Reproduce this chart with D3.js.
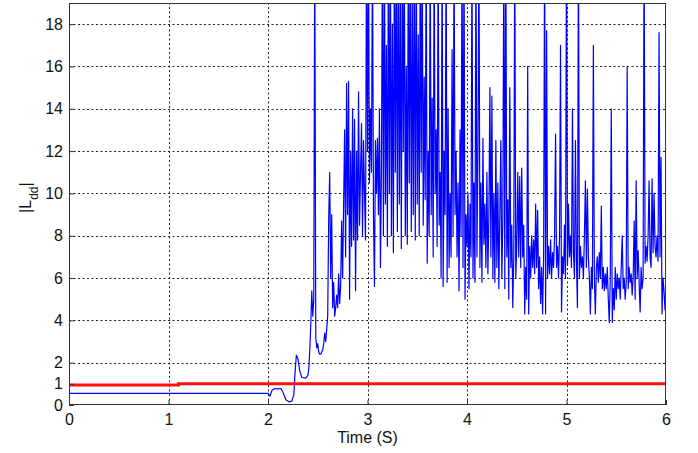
<!DOCTYPE html>
<html>
<head>
<meta charset="utf-8">
<script src="https://cdn.jsdelivr.net/npm/d3@7"></script>
<style>
  body { margin: 0; background: #fff; }
  text { font-family: Arial, "Liberation Sans", sans-serif; fill: #111; }
</style>
</head>
<body>
<script>
const xTicks = [0, 1, 2, 3, 4, 5, 6]
const yTicks = [0, 1, 2, 4, 6, 8, 10, 12, 14, 16, 18]

// red reference level
const refT = [0, 1.1, 1.1, 6]
const refV = [0.95, 0.95, 1.0, 1.0]

// blue trace, quiet part (time, value)
const startT = [0, 2.0, 2.02, 2.04, 2.07, 2.10, 2.13, 2.15, 2.18, 2.21, 2.24, 2.26, 2.27, 2.285, 2.30, 2.32, 2.34, 2.38]
const startV = [0.55, 0.55, 0.42, 0.7, 0.78, 0.76, 0.78, 0.6, 0.25, 0.15, 0.18, 0.5, 1.4, 2.35, 2.2, 1.6, 1.3, 1.27]

// blue trace, noisy part: one reading every 0.01 s starting at 2.40 s
const noiseStart = 2.40
const noiseStep = 0.01
const noiseV = [
  1.4, 1.7, 2.6, 3.8, 5.4, 4.2, 5.0, 22, 3.2, 2.7,
  2.9, 2.5, 2.4, 2.4, 2.5, 2.6, 2.9, 3.4, 3.0, 3.6,
  4.2, 8.8, 11.0, 6.0, 9.0, 4.6, 5.8, 4.2, 4.6, 5.2,
  4.6, 6.2, 4.8, 5.6, 8.7, 6.0, 9.5, 13.0, 7.0, 15.2,
  9.0, 15.3, 5.0, 12.0, 7.5, 14.0, 7.8, 13.5, 5.4, 12.0,
  7.8, 14.8, 8.5, 11.0, 13.3, 8.0, 12.5, 10.0, 7.8, 22,
  12.0, 22, 10.5, 14.0, 11.0, 22, 9.0, 5.6, 12.5, 10.0,
  12.6, 9.0, 14.0, 6.5, 11.0, 22, 8.0, 22, 9.5, 17.0,
  7.5, 22, 10.0, 22, 8.0, 18.0, 7.2, 22, 11.0, 22,
  8.2, 22, 9.5, 20.0, 7.4, 22, 12.0, 22, 8.0, 16.0,
  7.6, 22, 10.5, 22, 8.2, 19.5, 9.0, 22, 7.8, 22,
  9.5, 17.5, 8.0, 22, 11.0, 22, 8.5, 15.5, 9.7, 22,
  6.7, 12.0, 8.0, 22, 9.0, 14.5, 7.0, 22, 10.0, 13.0,
  7.5, 22, 8.5, 11.0, 6.0, 22, 5.6, 12.0, 9.0, 22,
  5.8, 14.0, 6.5, 10.0, 7.0, 16.8, 8.0, 22, 9.0, 12.0,
  7.0, 10.5, 5.4, 13.0, 8.0, 22, 6.5, 22, 5.0, 9.0,
  7.5, 10.0, 5.5, 9.5, 7.0, 22, 6.0, 10.5, 5.8, 22,
  7.0, 12.0, 22, 6.5, 10.5, 5.8, 12.6, 7.6, 9.5, 6.5,
  11.0, 6.2, 9.0, 15.0, 7.0, 14.6, 6.0, 10.0, 5.8, 12.5,
  6.5, 10.5, 5.5, 9.0, 12.5, 6.0, 8.8, 22, 5.5, 22,
  7.0, 9.7, 5.0, 15.0, 6.5, 8.5, 4.6, 7.0, 22, 6.0,
  7.5, 11.0, 7.0, 10.8, 6.5, 11.2, 7.0, 8.5, 4.3, 6.5,
  5.0, 16.0, 4.3, 7.5, 6.0, 8.0, 6.5, 7.8, 6.2, 9.5,
  6.5, 9.2, 5.5, 7.0, 4.8, 6.5, 4.3, 7.0, 22, 4.3,
  17.7, 6.0, 7.5, 6.2, 7.8, 6.0, 7.2, 6.5, 8.0, 12.8,
  6.5, 7.5, 6.0, 8.0, 17.0, 4.4, 7.0, 6.2, 8.5, 6.0,
  22, 6.6, 9.5, 7.0, 8.0, 6.5, 14.0, 7.2, 6.0, 12.5,
  6.8, 4.6, 22, 6.0, 7.5, 6.5, 7.0, 6.0, 8.0, 10.6,
  6.5, 10.2, 7.0, 6.0, 4.3, 6.5, 5.5, 17.0, 6.0, 4.3,
  6.5, 7.0, 5.8, 7.2, 6.0, 9.4, 5.5, 6.5, 5.4, 6.2,
  5.5, 6.5, 5.0, 3.9, 6.0, 14.0, 3.9, 5.5, 4.5, 6.5,
  5.0, 6.2, 5.5, 6.0, 5.0, 6.5, 8.0, 5.5, 6.0, 5.0,
  5.8, 16.0, 5.5, 6.5, 5.8, 6.2, 5.2, 6.0, 8.7, 5.0,
  10.6, 6.0, 7.3, 5.8, 4.4, 6.5, 5.5, 6.0, 22, 6.7,
  7.5, 6.8, 8.0, 10.6, 7.0, 6.5, 10.7, 7.2, 10.0, 7.5,
  7.0, 8.0, 6.8, 17.6, 7.0, 11.7, 4.3, 6.0, 5.4, 4.5,
  5.8
]

const width = 698
const height = 453
const margin = { top: 3, right: 32, bottom: 48, left: 69 }

const svg = d3.select("body")
  .append("svg")
  .attr("width", width)
  .attr("height", height)

const x = d3.scaleLinear()
  .domain([0, 6])
  .range([margin.left, width - margin.right])

const y = d3.scaleLinear()
  .domain([0, 19])
  .range([height - margin.bottom, margin.top])

svg.append("clipPath")
  .attr("id", "plot")
  .append("rect")
  .attr("x", x(0))
  .attr("y", y(19))
  .attr("width", x(6) - x(0))
  .attr("height", y(0) - y(19))

// grid
const grid = svg.append("g")
  .attr("stroke", "#222")
  .attr("stroke-width", 1)
  .attr("stroke-dasharray", "2,2.5")

grid.selectAll(".gx")
  .data(xTicks.slice(1, -1))
  .join("line")
  .attr("x1", d => Math.round(x(d)) + 0.5)
  .attr("x2", d => Math.round(x(d)) + 0.5)
  .attr("y1", y(0))
  .attr("y2", y(19))

grid.selectAll(".gy")
  .data(yTicks.filter(d => d > 0))
  .join("line")
  .attr("y1", d => Math.round(y(d)) + 0.5)
  .attr("y2", d => Math.round(y(d)) + 0.5)
  .attr("x1", x(0))
  .attr("x2", x(6))

const line = d3.line()
  .x(d => x(d[0]))
  .y(d => y(d[1]))

const blue = startT.map((t, i) => [t, startV[i]])
  .concat(noiseV.map((v, i) => [noiseStart + i * noiseStep, v]))

svg.append("path")
  .datum(blue)
  .attr("clip-path", "url(#plot)")
  .attr("fill", "none")
  .attr("stroke", "#0000ff")
  .attr("stroke-width", 1.2)
  .attr("stroke-linejoin", "round")
  .attr("d", line)

svg.append("path")
  .datum(refT.map((t, i) => [t, refV[i]]))
  .attr("clip-path", "url(#plot)")
  .attr("fill", "none")
  .attr("stroke", "#ff1010")
  .attr("stroke-width", 3)
  .attr("d", line)

// frame
svg.append("rect")
  .attr("x", x(0) + 0.5)
  .attr("y", y(19) + 0.5)
  .attr("width", x(6) - x(0) - 1)
  .attr("height", y(0) - y(19) - 1)
  .attr("fill", "none")
  .attr("stroke", "#333")
  .attr("stroke-width", 1)

// axes
const xAxis = svg.append("g")
  .attr("transform", `translate(0,${y(0)})`)
  .call(d3.axisBottom(x).tickValues(xTicks).tickSize(-5).tickPadding(9).tickFormat(d3.format("d")))
const yAxis = svg.append("g")
  .attr("transform", `translate(${x(0)},0)`)
  .call(d3.axisLeft(y).tickValues(yTicks).tickSize(-5).tickPadding(6).tickFormat(d3.format("d")))

for (const ax of [xAxis, yAxis]) {
  ax.select(".domain").remove()
  ax.selectAll(".tick line").attr("stroke", "#333")
  ax.selectAll(".tick text")
    .style("font-size", "16px")
    .style("font-family", "Arial, 'Liberation Sans', sans-serif")
    .attr("fill", "#111")
}

svg.append("text")
  .attr("x", (x(0) + x(6)) / 2)
  .attr("y", 443)
  .attr("text-anchor", "middle")
  .style("font-size", "16px")
  .text("Time (S)")

const yl = svg.append("text")
  .attr("transform", `translate(31,${y(9.8)}) rotate(-90)`)
  .attr("text-anchor", "middle")
  .style("font-size", "16px")
yl.append("tspan").text("|L")
yl.append("tspan").attr("baseline-shift", "sub").style("font-size", "12px").text("dd")
yl.append("tspan").text("|")
</script>
</body>
</html>
